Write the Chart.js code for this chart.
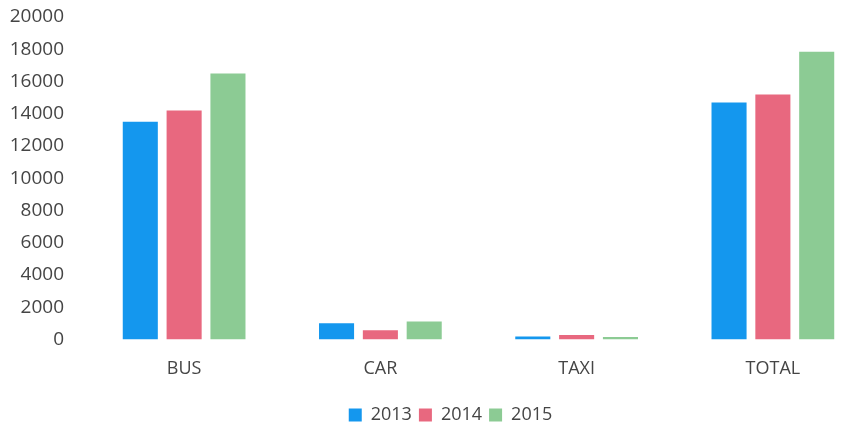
<!DOCTYPE html>
<html>
<head>
<meta charset="utf-8">
<script src="https://cdn.jsdelivr.net/npm/chart.js@4/dist/chart.umd.min.js"></script>
<style>
  html, body { margin: 0; padding: 0; background: #ffffff; overflow: hidden; }
  #wrap { position: relative; width: 880px; height: 431px; }
</style>
</head>
<body>
<div id="wrap"><canvas id="c"></canvas></div>
<script>
const categories = ["BUS", "CAR", "TAXI", "TOTAL"];
const seriesNames = ["2013", "2014", "2015"];
const values2013 = [13500, 1000, 180, 14700];
const values2014 = [14200, 560, 280, 15200];
const values2015 = [16500, 1110, 150, 17850];
const yTicks = [0, 2000, 4000, 6000, 8000, 10000, 12000, 14000, 16000, 18000, 20000];

const colors = ["#1497ee", "#e8687f", "#8ccb94"];
const textColor = "#454545";
const fontFamily = "'Open Sans', 'DejaVu Sans', sans-serif";

const shiftLegend = {
  id: "shiftLegend",
  afterLayout(chart) {
    chart.legend.left += 15;
    chart.legend.right += 15;
  }
};

new Chart(document.getElementById("c"), {
  type: "bar",
  data: {
    labels: categories,
    datasets: [
      { label: seriesNames[0], data: values2013, backgroundColor: colors[0] },
      { label: seriesNames[1], data: values2014, backgroundColor: colors[1] },
      { label: seriesNames[2], data: values2015, backgroundColor: colors[2] }
    ]
  },
  plugins: [shiftLegend],
  options: {
    responsive: true,
    maintainAspectRatio: false,
    animation: false,
    devicePixelRatio: 1,
    layout: { padding: { top: 17, right: 9, left: 0, bottom: -3 } },
    datasets: { bar: { categoryPercentage: 0.67, barPercentage: 0.8 } },
    scales: {
      x: {
        grid: { display: false, drawTicks: false },
        border: { display: false },
        ticks: { color: textColor, font: { family: fontFamily, size: 18 }, padding: 19 }
      },
      y: {
        min: 0,
        max: 20000,
        afterBuildTicks: s => { s.ticks = yTicks.map(v => ({ value: v })); },
        afterFit: s => { s.width = 86; s.paddingTop = 0; s.paddingBottom = 0; },
        grid: { display: false, drawTicks: false },
        border: { display: false },
        ticks: {
          color: textColor,
          font: { family: fontFamily, size: 19 },
          padding: 22,
          callback: v => String(v)
        }
      }
    },
    plugins: {
      legend: {
        position: "bottom",
        labels: {
          color: textColor,
          font: { family: fontFamily, size: 18 },
          boxWidth: 13,
          boxHeight: 13,
          padding: 7
        }
      },
      tooltip: { enabled: false }
    }
  }
});
</script>
</body>
</html>
